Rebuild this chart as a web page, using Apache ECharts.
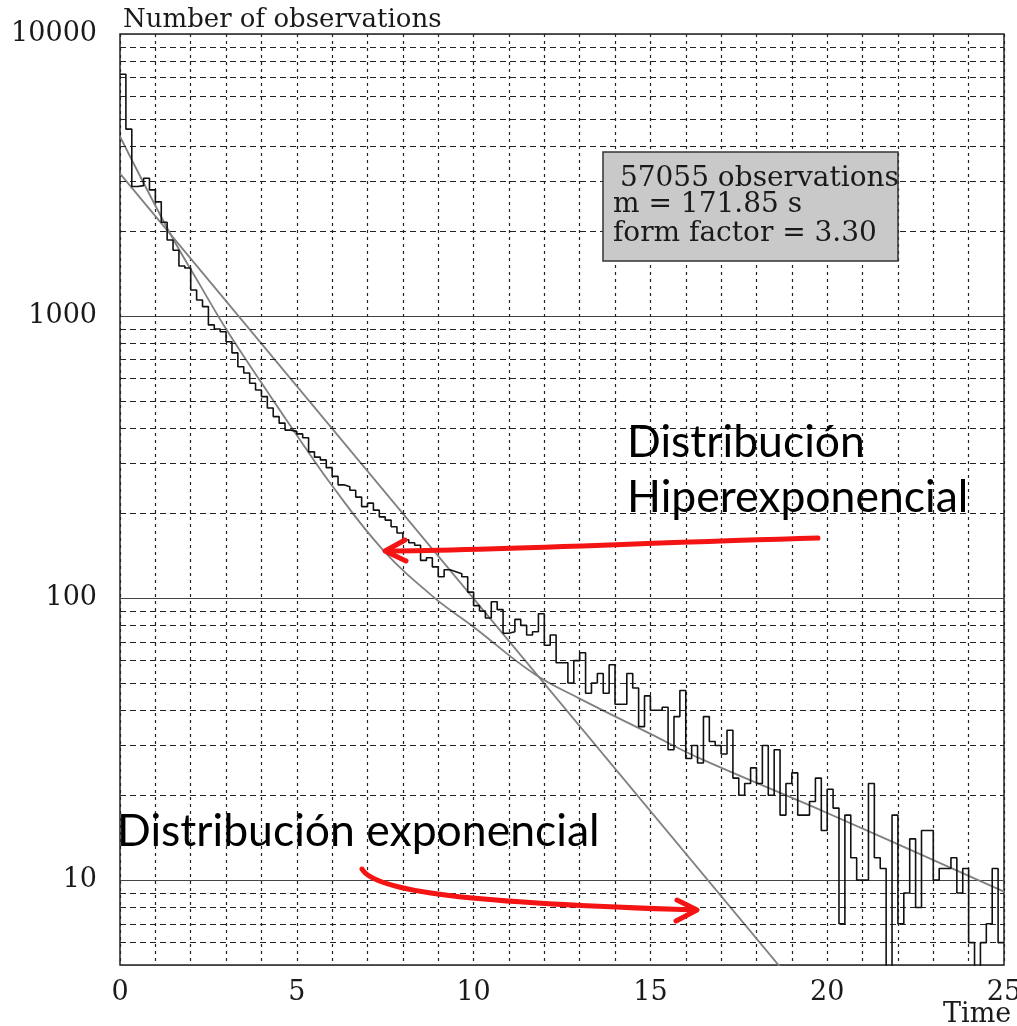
<!DOCTYPE html>
<html><head><meta charset="utf-8">
<script src="https://cdn.jsdelivr.net/npm/echarts@6/dist/echarts.min.js"></script>
<style>html,body{margin:0;padding:0;background:#fff;overflow:hidden}#c{position:absolute;left:0;top:0;width:1017px;height:1026px}</style>
</head><body><div id="c"></div>
<script>
// ---- data ----
const binWidth = 1 / 6; // minutes (10 s bins)
const counts = [
  7200, 4600, 2880, 2900, 3080, 2800, 2540, 2150, 1860, 1710,
  1505, 1480, 1237, 1140, 1080, 930, 900, 880, 811, 740,
  661, 628, 578, 547, 518, 472, 440, 417, 394, 390,
  382, 370, 330, 316, 309, 290, 270, 252, 248, 241,
  228, 211, 217, 205, 194, 189, 179, 170, 161, 157,
  154, 136, 139, 129, 119, 126, 124, 122, 119, 105,
  94, 90, 85, 97, 91, 75, 76, 84, 80, 74,
  76, 88, 68, 74, 59, 59, 50, 60, 64, 46,
  50, 54, 46, 58, 42, 42, 54, 48, 35, 45,
  40, 40, 41, 29, 38, 47, 27, 30, 26, 38,
  31, 30, 28, 34, 23, 20, 22, 25, 22, 30,
  20, 29, 17, 22, 24, 17, 17, 19, 23, 15,
  21, 18, 7, 17, 12, 10, 10, 22, 12, 11,
  3, 17, 7, 9, 14, 8, 15, 15, 10, 11,
  11, 12, 9, 11, 6, 3, 6, 7, 11, 6
];
const expFit = [[0, 3200], [20, 3.1]];
const hyperFit = [
  [0, 4330], [1.41, 1970], [2.26, 1290], [3, 900], [4, 580], [5, 378],
  [6, 250], [7.44, 148], [8.86, 101], [10, 79], [11.7, 54], [13, 44],
  [15, 33], [16.4, 27], [20, 17.3], [25, 9.1]
];
const xMin = 0, xMax = 25, yMin = 5, yMax = 10000;
const minorGrid = [6, 7, 8, 9, 20, 30, 40, 50, 60, 70, 80, 90,
  200, 300, 400, 500, 600, 700, 800, 900,
  2000, 3000, 4000, 5000, 6000, 7000, 8000, 9000];
const statsLines = [' 57055 observations', 'm = 171.85 s', 'form factor = 3.30'];
const yTitle = 'Number of observations';
const xTitle = 'Time';
const noteHyper = ['Distribución', 'Hiperexponencial'];
const noteExp = 'Distribución exponencial';

// ---- build ----
const histData = counts.map((c, i) => [i * binWidth, c]);
histData.push([xMax, counts[counts.length - 1]]);

const serif = 'DejaVu Serif';
const el = document.getElementById('c');
const chart = echarts.init(el, null, { renderer: 'canvas', width: 1017, height: 1026 });
chart.setOption({
  animation: false,
  backgroundColor: '#fff',
  title: {
    text: yTitle, left: 118, top: 2,
    textStyle: { fontFamily: serif, fontWeight: 'normal', fontSize: 26, color: '#1a1a1a' }
  },
  grid: { left: 120, right: 13, top: 34, bottom: 61, containLabel: false, outerBoundsMode: 'none',
    show: true, borderColor: '#222', borderWidth: 1.5, backgroundColor: 'transparent' },
  xAxis: {
    type: 'value', min: xMin, max: xMax, interval: 1,
    axisLine: { show: false }, axisTick: { show: false },
    axisLabel: { interval: 4, fontFamily: serif, fontSize: 27, color: '#1a1a1a', margin: 14,
      formatter: v => (v % 5 === 0 ? String(v) : '') },
    splitLine: { show: true, lineStyle: { color: '#222', width: 1.2, type: [3, 4] } }
  },
  yAxis: {
    type: 'log', logBase: 10, min: yMin, max: yMax,
    axisLine: { show: false }, axisTick: { show: false },
    axisLabel: { showMinLabel: false, fontFamily: serif, fontSize: 27, color: '#1a1a1a', margin: 23,
      formatter: v => String(Math.round(v)) },
    splitLine: { show: true, lineStyle: { color: '#444', width: 1.2, type: 'solid' } }
  },
  series: [
    {
      type: 'line', data: histData, step: 'end', symbol: 'none', clip: true,
      lineStyle: { color: '#111', width: 1.6 }, z: 5,
      markLine: {
        silent: true, symbol: 'none', label: { show: false },
        lineStyle: { color: '#222', width: 1.2, type: [6, 4] },
        data: minorGrid.map(v => ({ yAxis: v }))
      }
    },
    { type: 'line', data: expFit, symbol: 'none', clip: true, lineStyle: { color: '#808080', width: 1.8 }, z: 4 },
    { type: 'line', data: hyperFit, symbol: 'none', smooth: 0.4, clip: true, lineStyle: { color: '#808080', width: 1.8 }, z: 4 }
  ]
});

// ---- annotations ----
const red = '#f41414';
const boxFont = '28px "DejaVu Serif"';
const noteFont = '44.5px Lato';
chart.setOption({
  graphic: [
    { type: 'rect', shape: { x: 603, y: 152, width: 295, height: 109 },
      style: { fill: '#c9c9c9', stroke: '#333', lineWidth: 1.5 }, z: 20 },
    { type: 'text', x: 611, y: 179, style: { text: statsLines[0], font: boxFont, fill: '#1a1a1a', verticalAlign: 'middle' }, z: 21 },
    { type: 'text', x: 613, y: 205, style: { text: statsLines[1], font: boxFont, fill: '#1a1a1a', verticalAlign: 'middle' }, z: 21 },
    { type: 'text', x: 613, y: 234, style: { text: statsLines[2], font: boxFont, fill: '#1a1a1a', verticalAlign: 'middle' }, z: 21 },
    { type: 'text', x: 943, y: 1015, style: { text: xTitle, font: '27px "DejaVu Serif"', fill: '#1a1a1a', verticalAlign: 'middle' }, z: 21 },
    { type: 'text', x: 627, y: 443, style: { text: noteHyper[0], font: noteFont, fill: '#000', verticalAlign: 'middle' }, z: 21 },
    { type: 'text', x: 627, y: 498, style: { text: noteHyper[1], font: noteFont, fill: '#000', verticalAlign: 'middle' }, z: 21 },
    { type: 'text', x: 117, y: 832, style: { text: noteExp, font: noteFont, fill: '#000', verticalAlign: 'middle' }, z: 21 },
    { type: 'bezierCurve', shape: { x1: 818, y1: 538, x2: 386, y2: 551, cpx1: 640, cpy1: 543, cpx2: 500, cpy2: 550 },
      style: { stroke: red, lineWidth: 5, fill: null, lineCap: 'round' }, z: 22 },
    { type: 'polyline', shape: { points: [[405, 540], [385, 551], [406, 561]] },
      style: { stroke: red, lineWidth: 5, fill: null, lineCap: 'round', lineJoin: 'round' }, z: 22 },
    { type: 'bezierCurve', shape: { x1: 362, y1: 869, x2: 696, y2: 910, cpx1: 375, cpy1: 892, cpx2: 470, cpy2: 903 },
      style: { stroke: red, lineWidth: 5, fill: null, lineCap: 'round' }, z: 22 },
    { type: 'polyline', shape: { points: [[677, 900], [697, 910], [676, 921]] },
      style: { stroke: red, lineWidth: 5, fill: null, lineCap: 'round', lineJoin: 'round' }, z: 22 }
  ]
});
</script>
</body></html>
